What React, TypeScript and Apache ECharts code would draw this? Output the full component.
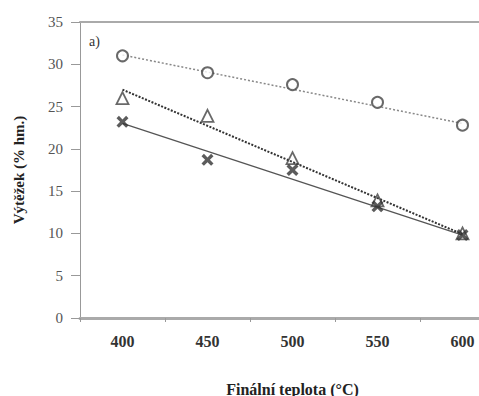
import React, { useEffect, useRef } from "react";
import * as echarts from "echarts";

const categories = ["400", "450", "500", "550", "600"];
const circleValues = [31.0, 29.0, 27.6, 25.5, 22.8];
const triangleValues = [26.0, 23.9, 18.9, 13.9, 10.0];
const crossValues = [23.2, 18.7, 17.5, 13.2, 9.8];
// trend lines: value at first and last category
const circleTrend = [31.1, 23.0];
const triangleTrend = [27.0, 9.9];
const crossTrend = [23.0, 9.8];
const yTicks = [0, 5, 10, 15, 20, 25, 30, 35];

const FONT = "Liberation Serif";
const crossPath =
  "path://M2,0 L5,3 L8,0 L10,2 L7,5 L10,8 L8,10 L5,7 L2,10 L0,8 L3,5 L0,2 Z";

export default function App() {
  const ref = useRef<HTMLDivElement>(null);
  useEffect(() => {
    if (!ref.current) return;
    const chart = echarts.init(ref.current, null, { renderer: "svg" });
    const trend = (vals: number[]) => [
      [categories[0], vals[0]],
      [categories[categories.length - 1], vals[1]],
    ];
    chart.setOption({
      animation: false,
      backgroundColor: "#fff",
      grid: { left: 80, top: 22, bottom: 78, right: 25, outerBoundsMode: "none", containLabel: false },
      xAxis: [
        {
          type: "category",
          data: categories,
          boundaryGap: true,
          name: "Finální teplota (°C)",
          nameLocation: "middle",
          nameGap: 63,
          nameTextStyle: { fontFamily: FONT, fontWeight: "bold", fontSize: 16, color: "#222" },
          axisLine: { lineStyle: { color: "#aaa", width: 3 } },
          axisTick: { show: true, length: 4, lineStyle: { color: "#999" } },
          axisLabel: { fontFamily: FONT, fontWeight: "bold", fontSize: 16, color: "#333", margin: 15 },
          splitLine: { show: false },
        },
        {
          type: "category",
          data: categories,
          position: "top",
          axisLine: { lineStyle: { color: "#aaa", width: 2 } },
          axisTick: { show: false },
          axisLabel: { show: false },
        },
      ],
      yAxis: {
        type: "value",
        min: yTicks[0],
        max: yTicks[yTicks.length - 1],
        interval: 5,
        name: "Výtěžek (% hm.)",
        nameLocation: "middle",
        nameGap: 54,
        nameRotate: 90,
        nameTextStyle: { fontFamily: FONT, fontWeight: "bold", fontSize: 15, color: "#222" },
        axisLine: { show: true, lineStyle: { color: "#999", width: 1 } },
        axisTick: { show: true, length: 9, lineStyle: { color: "#999" } },
        axisLabel: { fontFamily: FONT, fontSize: 15, color: "#555", margin: 17 },
        splitLine: { show: false },
      },
      graphic: [
        {
          type: "text",
          left: 89,
          top: 34,
          style: { text: "a)", fontFamily: FONT, fontSize: 14, fill: "#333" },
        },
      ],
      series: [
        {
          type: "line",
          data: trend(circleTrend),
          symbol: "none",
          lineStyle: { color: "#888", width: 1.5, type: [2, 2] },
          z: 1,
        },
        {
          type: "line",
          data: trend(triangleTrend),
          symbol: "none",
          lineStyle: { color: "#333", width: 2, type: [2, 1.5] },
          z: 1,
        },
        {
          type: "line",
          data: trend(crossTrend),
          symbol: "none",
          lineStyle: { color: "#555", width: 1.3 },
          z: 1,
        },
        {
          type: "scatter",
          data: circleValues,
          symbol: "circle",
          symbolSize: 11,
          itemStyle: { color: "#fff", borderColor: "#444", borderWidth: 2 },
          z: 3,
        },
        {
          type: "scatter",
          data: triangleValues,
          symbol: "triangle",
          symbolSize: 12,
          itemStyle: { color: "rgba(255,255,255,0)", borderColor: "#444", borderWidth: 1.8 },
          z: 3,
        },
        {
          type: "scatter",
          data: crossValues,
          symbol: crossPath,
          symbolSize: 12,
          itemStyle: { color: "#333" },
          z: 4,
        },
      ],
    });
    return () => chart.dispose();
  }, []);
  return (
    <div style={{ width: 479, height: 396, position: "absolute", left: 0, top: 0, overflow: "hidden" }}>
      <div ref={ref} style={{ width: 530, height: 396 }} />
    </div>
  );
}
